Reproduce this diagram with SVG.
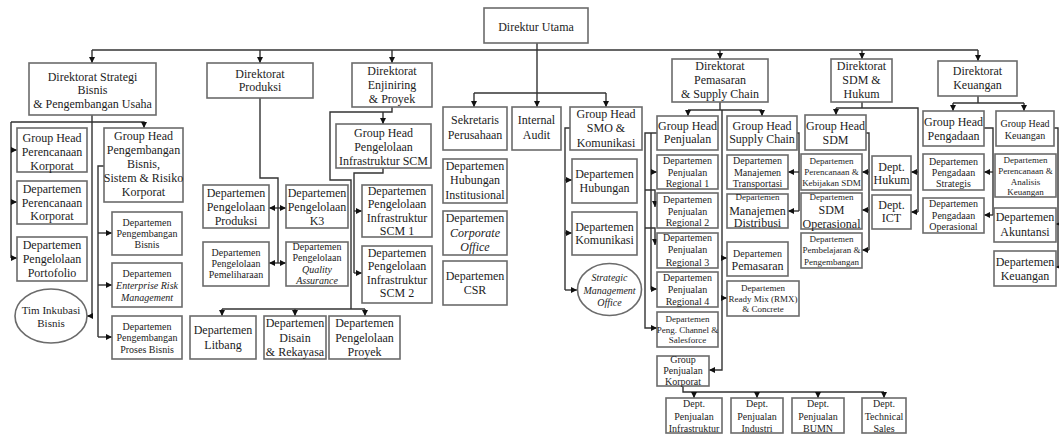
<svg xmlns="http://www.w3.org/2000/svg" width="1059" height="434" viewBox="0 0 1059 434">
<style>
.n rect,.n ellipse{fill:#fff;stroke:#6b6b6b;stroke-width:1.6}
text{font-family:"Liberation Serif","Times New Roman",serif;fill:#1c1c1c;text-anchor:middle}
.f12{font-size:12px}.f11{font-size:11px}.f10{font-size:10px}.f9{font-size:9px}.i{font-style:italic}
.c path{fill:none;stroke:#333;stroke-width:1.4}
.c .a{marker-end:url(#ah)}
</style>
<defs>
<marker id="ah" viewBox="0 0 6 6" refX="6" refY="3" markerWidth="6" markerHeight="6" markerUnits="userSpaceOnUse" orient="auto">
<path d="M0,0 L6,3 L0,6 z" fill="#111"/>
</marker>
</defs>
<rect width="1059" height="434" fill="#fff"/>
<g class="c" id="connectors">
<path d="M92,50 H978"/>
<path class="a" d="M92,50 V63"/><path class="a" d="M260,50 V63"/><path class="a" d="M392,50 V63"/>
<path class="a" d="M720,50 V59"/><path class="a" d="M862,50 V59"/><path class="a" d="M978,50 V61"/>
<path class="a" d="M537,43 V107"/><path d="M474,93 H606"/>
<path class="a" d="M474,93 V107"/><path class="a" d="M606,93 V107"/>
<!-- Strategi -->
<path class="a" d="M92,115 V316 H87"/>
<path class="a" d="M11,122 H144 V128"/>
<path d="M11,122 V258"/>
<path class="a" d="M11,150 H17"/><path class="a" d="M11,202 H17"/><path class="a" d="M11,258 H17"/>
<path d="M104,166 H98 V337"/>
<path class="a" d="M98,233 H112"/><path class="a" d="M98,285 H112"/><path class="a" d="M98,337 H112"/>
<!-- Produksi -->
<path d="M260,98 V178 H278 V263"/>
<path class="a" d="M278,208 H269"/><path class="a" d="M278,208 H286"/>
<path class="a" d="M278,263 H269"/><path class="a" d="M278,263 H286"/>
<!-- Enjiniring -->
<path d="M392,107 V112 H330 V180 H351 V309"/>
<path class="a" d="M383,112 V124"/>
<path d="M222,309 H365"/>
<path class="a" d="M222,309 V316"/><path class="a" d="M295,309 V316"/><path class="a" d="M365,309 V316"/>
<path d="M383,168 V173 H354 V273"/>
<path class="a" d="M354,211 H362"/><path class="a" d="M354,273 H362"/>
<!-- SMO -->
<path d="M570,128 H565 V290"/>
<path class="a" d="M565,180 H572"/><path class="a" d="M565,233 H572"/><path class="a" d="M565,290 H577"/>
<!-- Pemasaran -->
<path d="M720,102 V110"/><path d="M688,110 H762"/>
<path class="a" d="M688,110 V116"/><path class="a" d="M762,110 V116"/>
<path class="a" d="M722,110 V370 H709"/>
<path class="a" d="M722,258 H727"/><path class="a" d="M722,298 H727"/>
<path d="M797,133 H799 V211"/>
<path class="a" d="M799,172 H788"/><path class="a" d="M799,211 H788"/>
<path class="a" d="M657,133 H645 V328 H657"/>
<path class="a" d="M651,133 V289 H657"/>
<path class="a" d="M651,172 H657"/>
<path class="a" d="M645,190 H655 V207"/>
<path class="a" d="M645,228 H655 V245"/>
<path d="M683,386 V392 H884"/>
<path class="a" d="M694,392 V398"/><path class="a" d="M757,392 V398"/><path class="a" d="M818,392 V398"/><path class="a" d="M884,392 V398"/>
<!-- SDM -->
<path d="M862,102 V108"/><path d="M836,108 H918 V212"/>
<path class="a" d="M836,108 V115"/>
<path class="a" d="M918,172 H911"/><path class="a" d="M918,212 H911"/>
<path d="M866,133 H869 V250"/>
<path class="a" d="M869,172 H862"/><path class="a" d="M869,210 H862"/><path class="a" d="M869,250 H862"/>
<!-- Keuangan -->
<path d="M978,96 V103"/><path d="M953,103 H1024"/>
<path class="a" d="M953,103 V111"/><path class="a" d="M1024,103 V111"/>
<path d="M984,128 H993 V215"/>
<path class="a" d="M993,172 H984"/><path class="a" d="M993,215 H984"/>
<path d="M1054,128 H1058 V267"/>
<path class="a" d="M1059,224 H1056"/><path class="a" d="M1059,267 H1056"/>
</g>

<g class="n" id="direktur-utama"><rect x="484" y="8" width="104" height="35"/><text class="f12" x="536" y="31">Direktur Utama</text></g>

<g class="n" id="dir-strategi"><rect x="29" y="63" width="127" height="52"/><text class="f12"><tspan x="92.5" y="81">Direktorat Strategi</tspan><tspan x="92.5" y="94">Bisnis</tspan><tspan x="92.5" y="108">&amp; Pengembangan Usaha</tspan></text></g>
<g class="n" id="gh-perencanaan"><rect x="17" y="128" width="70" height="44"/><text class="f12"><tspan x="52" y="142">Group Head</tspan><tspan x="52" y="156">Perencanaan</tspan><tspan x="52" y="170">Korporat</tspan></text></g>
<g class="n" id="dep-perencanaan"><rect x="17" y="181" width="70" height="43"/><text class="f12"><tspan x="52" y="193">Departemen</tspan><tspan x="52" y="207">Perencanaan</tspan><tspan x="52" y="220">Korporat</tspan></text></g>
<g class="n" id="dep-portofolio"><rect x="17" y="237" width="70" height="44"/><text class="f12"><tspan x="52" y="249">Departemen</tspan><tspan x="52" y="263">Pengelolaan</tspan><tspan x="52" y="277">Portofolio</tspan></text></g>
<g class="n" id="tim-inkubasi"><ellipse cx="51" cy="316" rx="36" ry="27"/><text class="f11"><tspan x="51" y="314">Tim Inkubasi</tspan><tspan x="51" y="327">Bisnis</tspan></text></g>
<g class="n" id="gh-pengembangan"><rect x="104" y="128" width="79" height="74"/><text class="f12"><tspan x="143.5" y="140">Group Head</tspan><tspan x="143.5" y="154">Pengembangan</tspan><tspan x="143.5" y="168">Bisnis,</tspan><tspan x="143.5" y="182">Sistem &amp; Risiko</tspan><tspan x="143.5" y="196">Korporat</tspan></text></g>
<g class="n" id="dep-peng-bisnis"><rect x="112" y="212" width="70" height="43"/><text class="f10"><tspan x="147" y="225.5">Departemen</tspan><tspan x="147" y="236.5">Pengembangan</tspan><tspan x="147" y="247.5">Bisnis</tspan></text></g>
<g class="n" id="dep-erm"><rect x="112" y="263" width="70" height="44"/><text class="f10"><tspan x="147" y="276.5">Departemen</tspan><tspan class="i" x="147" y="288.5">Enterprise Risk</tspan><tspan class="i" x="147" y="300.5">Management</tspan></text></g>
<g class="n" id="dep-proses"><rect x="112" y="316" width="70" height="43"/><text class="f10"><tspan x="147" y="329.5">Departemen</tspan><tspan x="147" y="340.5">Pengembangan</tspan><tspan x="147" y="352.5">Proses Bisnis</tspan></text></g>

<g class="n" id="dir-produksi"><rect x="207" y="63" width="106" height="35"/><text class="f12"><tspan x="260" y="78">Direktorat</tspan><tspan x="260" y="91">Produksi</tspan></text></g>
<g class="n" id="dep-produksi"><rect x="203" y="185" width="66" height="43"/><text class="f12"><tspan x="236" y="197">Departemen</tspan><tspan x="236" y="211">Pengelolaan</tspan><tspan x="236" y="225">Produksi</tspan></text></g>
<g class="n" id="dep-k3"><rect x="286" y="185" width="62" height="43"/><text class="f12"><tspan x="317" y="197">Departemen</tspan><tspan x="317" y="211">Pengelolaan</tspan><tspan x="317" y="225">K3</tspan></text></g>
<g class="n" id="dep-pemeliharaan"><rect x="203" y="242" width="66" height="44"/><text class="f10"><tspan x="236" y="255.5">Departemen</tspan><tspan x="236" y="266.5">Pengelolaan</tspan><tspan x="236" y="277.5">Pemeliharaan</tspan></text></g>
<g class="n" id="dep-qa"><rect x="286" y="242" width="62" height="44"/><text class="f10"><tspan x="317" y="249.5">Departemen</tspan><tspan x="317" y="260.5">Pengelolaan</tspan><tspan class="i" x="317" y="272.5">Quality</tspan><tspan class="i" x="317" y="284">Assurance</tspan></text></g>
<g class="n" id="dep-litbang"><rect x="190" y="316" width="66" height="43"/><text class="f12"><tspan x="223" y="334">Departemen</tspan><tspan x="223" y="349">Litbang</tspan></text></g>
<g class="n" id="dep-disain"><rect x="264" y="316" width="62" height="43"/><text class="f12"><tspan x="295" y="327">Departemen</tspan><tspan x="295" y="342">Disain</tspan><tspan x="295" y="356">&amp; Rekayasa</tspan></text></g>
<g class="n" id="dep-proyek"><rect x="329" y="316" width="71" height="43"/><text class="f12"><tspan x="364.5" y="327">Departemen</tspan><tspan x="364.5" y="342">Pengelolaan</tspan><tspan x="364.5" y="356">Proyek</tspan></text></g>

<g class="n" id="dir-enjiniring"><rect x="352" y="63" width="80" height="44"/><text class="f12"><tspan x="392" y="75">Direktorat</tspan><tspan x="392" y="89">Enjiniring</tspan><tspan x="392" y="103">&amp; Proyek</tspan></text></g>
<g class="n" id="gh-infra"><rect x="336" y="124" width="95" height="44"/><text class="f12"><tspan x="383.5" y="137">Group Head</tspan><tspan x="383.5" y="151">Pengelolaan</tspan><tspan x="383.5" y="165">Infrastruktur SCM</tspan></text></g>
<g class="n" id="dep-scm1"><rect x="362" y="185" width="70" height="52"/><text class="f12"><tspan x="397" y="195">Departemen</tspan><tspan x="397" y="208">Pengelolaan</tspan><tspan x="397" y="222">Infrastruktur</tspan><tspan x="397" y="235">SCM 1</tspan></text></g>
<g class="n" id="dep-scm2"><rect x="362" y="246" width="70" height="57"/><text class="f12"><tspan x="397" y="257">Departemen</tspan><tspan x="397" y="270">Pengelolaan</tspan><tspan x="397" y="284">Infrastruktur</tspan><tspan x="397" y="297">SCM 2</tspan></text></g>

<g class="n" id="sekretaris"><rect x="443" y="107" width="64" height="43"/><text class="f12"><tspan x="475" y="124">Sekretaris</tspan><tspan x="475" y="139">Perusahaan</tspan></text></g>
<g class="n" id="internal-audit"><rect x="512" y="107" width="49" height="43"/><text class="f12"><tspan x="536.5" y="124">Internal</tspan><tspan x="536.5" y="139">Audit</tspan></text></g>
<g class="n" id="gh-smo"><rect x="570" y="107" width="72" height="43"/><text class="f12"><tspan x="606" y="118">Group Head</tspan><tspan x="606" y="132">SMO &amp;</tspan><tspan x="606" y="147">Komunikasi</tspan></text></g>
<g class="n" id="dep-hub-inst"><rect x="443" y="159" width="64" height="44"/><text class="f12"><tspan x="475" y="170">Departemen</tspan><tspan x="475" y="184">Hubungan</tspan><tspan x="475" y="199">Institusional</tspan></text></g>
<g class="n" id="dep-corporate"><rect x="443" y="211" width="64" height="44"/><text class="f12"><tspan x="475" y="222">Departemen</tspan><tspan class="i" x="475" y="237">Corporate</tspan><tspan class="i" x="475" y="251">Office</tspan></text></g>
<g class="n" id="dep-csr"><rect x="443" y="261" width="64" height="44"/><text class="f12"><tspan x="475" y="280">Departemen</tspan><tspan x="475" y="294">CSR</tspan></text></g>
<g class="n" id="dep-hubungan"><rect x="572" y="159" width="65" height="44"/><text class="f12"><tspan x="604.5" y="178">Departemen</tspan><tspan x="604.5" y="192">Hubungan</tspan></text></g>
<g class="n" id="dep-komunikasi"><rect x="572" y="212" width="65" height="43"/><text class="f12"><tspan x="604.5" y="231">Departemen</tspan><tspan x="604.5" y="244">Komunikasi</tspan></text></g>
<g class="n" id="smo"><ellipse cx="609.5" cy="289.5" rx="32" ry="26"/><text class="f10 i"><tspan x="609.5" y="280.5">Strategic</tspan><tspan x="609.5" y="293.5">Management</tspan><tspan x="609.5" y="305.5">Office</tspan></text></g>

<g class="n" id="dir-pemasaran"><rect x="672" y="59" width="96" height="43"/><text class="f12"><tspan x="720" y="70">Direktorat</tspan><tspan x="720" y="84">Pemasaran</tspan><tspan x="720" y="98">&amp; Supply Chain</tspan></text></g>
<g class="n" id="gh-penjualan"><rect x="657" y="116" width="61" height="34"/><text class="f12"><tspan x="687.5" y="130">Group Head</tspan><tspan x="687.5" y="143">Penjualan</tspan></text></g>
<g class="n" id="gh-supply"><rect x="727" y="116" width="70" height="34"/><text class="f12"><tspan x="762" y="130">Group Head</tspan><tspan x="762" y="143">Supply Chain</tspan></text></g>
<g class="n" id="reg1"><rect x="657" y="155" width="61" height="34"/><text class="f10"><tspan x="687.5" y="164">Departemen</tspan><tspan x="687.5" y="176">Penjualan</tspan><tspan x="687.5" y="186.5">Regional 1</tspan></text></g>
<g class="n" id="reg2"><rect x="657" y="193" width="61" height="35"/><text class="f10"><tspan x="687.5" y="202.5">Departemen</tspan><tspan x="687.5" y="214.5">Penjualan</tspan><tspan x="687.5" y="226">Regional 2</tspan></text></g>
<g class="n" id="reg3"><rect x="657" y="233" width="61" height="35"/><text class="f10"><tspan x="687.5" y="240.5">Departemen</tspan><tspan x="687.5" y="252.5">Penjualan</tspan><tspan x="687.5" y="265.5">Regional 3</tspan></text></g>
<g class="n" id="reg4"><rect x="657" y="272" width="61" height="35"/><text class="f10"><tspan x="687.5" y="280.5">Departemen</tspan><tspan x="687.5" y="292.5">Penjualan</tspan><tspan x="687.5" y="305">Regional 4</tspan></text></g>
<g class="n" id="peng-channel"><rect x="657" y="312" width="61" height="35"/><text class="f9"><tspan x="687.5" y="322">Departemen</tspan><tspan x="687.5" y="332.5">Peng. Channel &amp;</tspan><tspan x="687.5" y="343">Salesforce</tspan></text></g>
<g class="n" id="group-penjualan-korporat"><rect x="657" y="356" width="52" height="30"/><text class="f10"><tspan x="683" y="362.5">Group</tspan><tspan x="683" y="373.5">Penjualan</tspan><tspan x="683" y="384.5">Korporat</tspan></text></g>
<g class="n" id="dept-infrastruktur"><rect x="666" y="398" width="56" height="35"/><text class="f10"><tspan x="694" y="406.5">Dept.</tspan><tspan x="694" y="419.5">Penjualan</tspan><tspan x="694" y="431.5">Infrastruktur</tspan></text></g>
<g class="n" id="dept-industri"><rect x="731" y="398" width="52" height="35"/><text class="f10"><tspan x="757" y="406.5">Dept.</tspan><tspan x="757" y="419.5">Penjualan</tspan><tspan x="757" y="431.5">Industri</tspan></text></g>
<g class="n" id="dept-bumn"><rect x="792" y="398" width="52" height="35"/><text class="f10"><tspan x="818" y="406.5">Dept.</tspan><tspan x="818" y="419.5">Penjualan</tspan><tspan x="818" y="431.5">BUMN</tspan></text></g>
<g class="n" id="dept-technical"><rect x="862" y="398" width="44" height="35"/><text class="f10"><tspan x="884" y="406.5">Dept.</tspan><tspan x="884" y="419.5">Technical</tspan><tspan x="884" y="431.5">Sales</tspan></text></g>
<g class="n" id="dep-transportasi"><rect x="727" y="155" width="61" height="34"/><text class="f10"><tspan x="757.5" y="164">Departemen</tspan><tspan x="757.5" y="176">Manajemen</tspan><tspan x="757.5" y="187">Transportasi</tspan></text></g>
<g class="n" id="dep-distribusi"><rect x="727" y="194" width="61" height="34"/><text><tspan class="f9" x="757.5" y="200">Departemen</tspan><tspan class="f12" x="757.5" y="214.5">Manajemen</tspan><tspan class="f12" x="757.5" y="226.5">Distribusi</tspan></text></g>
<g class="n" id="dep-pemasaran"><rect x="727" y="242" width="61" height="34"/><text><tspan class="f10" x="757.5" y="256.5">Departemen</tspan><tspan class="f12" x="757.5" y="269.5">Pemasaran</tspan></text></g>
<g class="n" id="dep-readymix"><rect x="727" y="281" width="72" height="35"/><text class="f9"><tspan x="763" y="291">Departemen</tspan><tspan x="763" y="301.5">Ready Mix (RMX)</tspan><tspan x="763" y="312">&amp; Concrete</tspan></text></g>

<g class="n" id="dir-sdm"><rect x="831" y="59" width="61" height="43"/><text class="f12"><tspan x="861.5" y="70">Direktorat</tspan><tspan x="861.5" y="84">SDM &amp;</tspan><tspan x="861.5" y="98">Hukum</tspan></text></g>
<g class="n" id="gh-sdm"><rect x="805" y="115" width="61" height="35"/><text class="f12"><tspan x="835.5" y="130">Group Head</tspan><tspan x="835.5" y="144">SDM</tspan></text></g>
<g class="n" id="dep-perencanaan-sdm"><rect x="801" y="154" width="61" height="36"/><text class="f9"><tspan x="831.5" y="164">Departemen</tspan><tspan x="831.5" y="175">Perencanaan &amp;</tspan><tspan x="831.5" y="186">Kebijakan SDM</tspan></text></g>
<g class="n" id="dep-sdm-ops"><rect x="801" y="193" width="61" height="36"/><text><tspan class="f9" x="831.5" y="200">Departemen</tspan><tspan class="f12" x="831.5" y="214">SDM</tspan><tspan class="f12" x="831.5" y="227.5">Operasional</tspan></text></g>
<g class="n" id="dep-pembelajaran"><rect x="801" y="233" width="61" height="35"/><text class="f9"><tspan x="831.5" y="241.5">Departemen</tspan><tspan x="831.5" y="253">Pembelajaran &amp;</tspan><tspan x="831.5" y="265">Pengembangan</tspan></text></g>
<g class="n" id="dept-hukum"><rect x="872" y="156" width="39" height="34"/><text class="f12"><tspan x="891.5" y="171">Dept.</tspan><tspan x="891.5" y="183.5">Hukum</tspan></text></g>
<g class="n" id="dept-ict"><rect x="872" y="195" width="39" height="34"/><text class="f12"><tspan x="891.5" y="209">Dept.</tspan><tspan x="891.5" y="222">ICT</tspan></text></g>

<g class="n" id="dir-keuangan"><rect x="938" y="61" width="79" height="35"/><text class="f12"><tspan x="977.5" y="75">Direktorat</tspan><tspan x="977.5" y="89">Keuangan</tspan></text></g>
<g class="n" id="gh-pengadaan"><rect x="923" y="111" width="61" height="35"/><text class="f12"><tspan x="953.5" y="126">Group Head</tspan><tspan x="953.5" y="139.5">Pengadaan</tspan></text></g>
<g class="n" id="gh-keuangan"><rect x="996" y="111" width="58" height="35"/><text class="f10"><tspan x="1025" y="126.5">Group Head</tspan><tspan x="1025" y="138.5">Keuangan</tspan></text></g>
<g class="n" id="dep-pengadaan-strategis"><rect x="923" y="154" width="61" height="36"/><text class="f10"><tspan x="953.5" y="164.5">Departemen</tspan><tspan x="953.5" y="176">Pengadaan</tspan><tspan x="953.5" y="187">Strategis</tspan></text></g>
<g class="n" id="dep-pengadaan-ops"><rect x="923" y="198" width="61" height="35"/><text class="f10"><tspan x="953.5" y="206.5">Departemen</tspan><tspan x="953.5" y="218.5">Pengadaan</tspan><tspan x="953.5" y="229.5">Operasional</tspan></text></g>
<g class="n" id="dep-perencanaan-keu"><rect x="995" y="154" width="61" height="43"/><text class="f9"><tspan x="1025.5" y="163">Departemen</tspan><tspan x="1025.5" y="173.5">Perencanaan &amp;</tspan><tspan x="1025.5" y="185">Analisis</tspan><tspan x="1025.5" y="195">Keuangan</tspan></text></g>
<g class="n" id="dep-akuntansi"><rect x="994" y="208" width="62" height="34"/><text class="f12"><tspan x="1025" y="221">Departemen</tspan><tspan x="1025" y="236">Akuntansi</tspan></text></g>
<g class="n" id="dep-keuangan"><rect x="994" y="251" width="62" height="35"/><text class="f12"><tspan x="1025" y="266">Departemen</tspan><tspan x="1025" y="279.5">Keuangan</tspan></text></g>
</svg>
